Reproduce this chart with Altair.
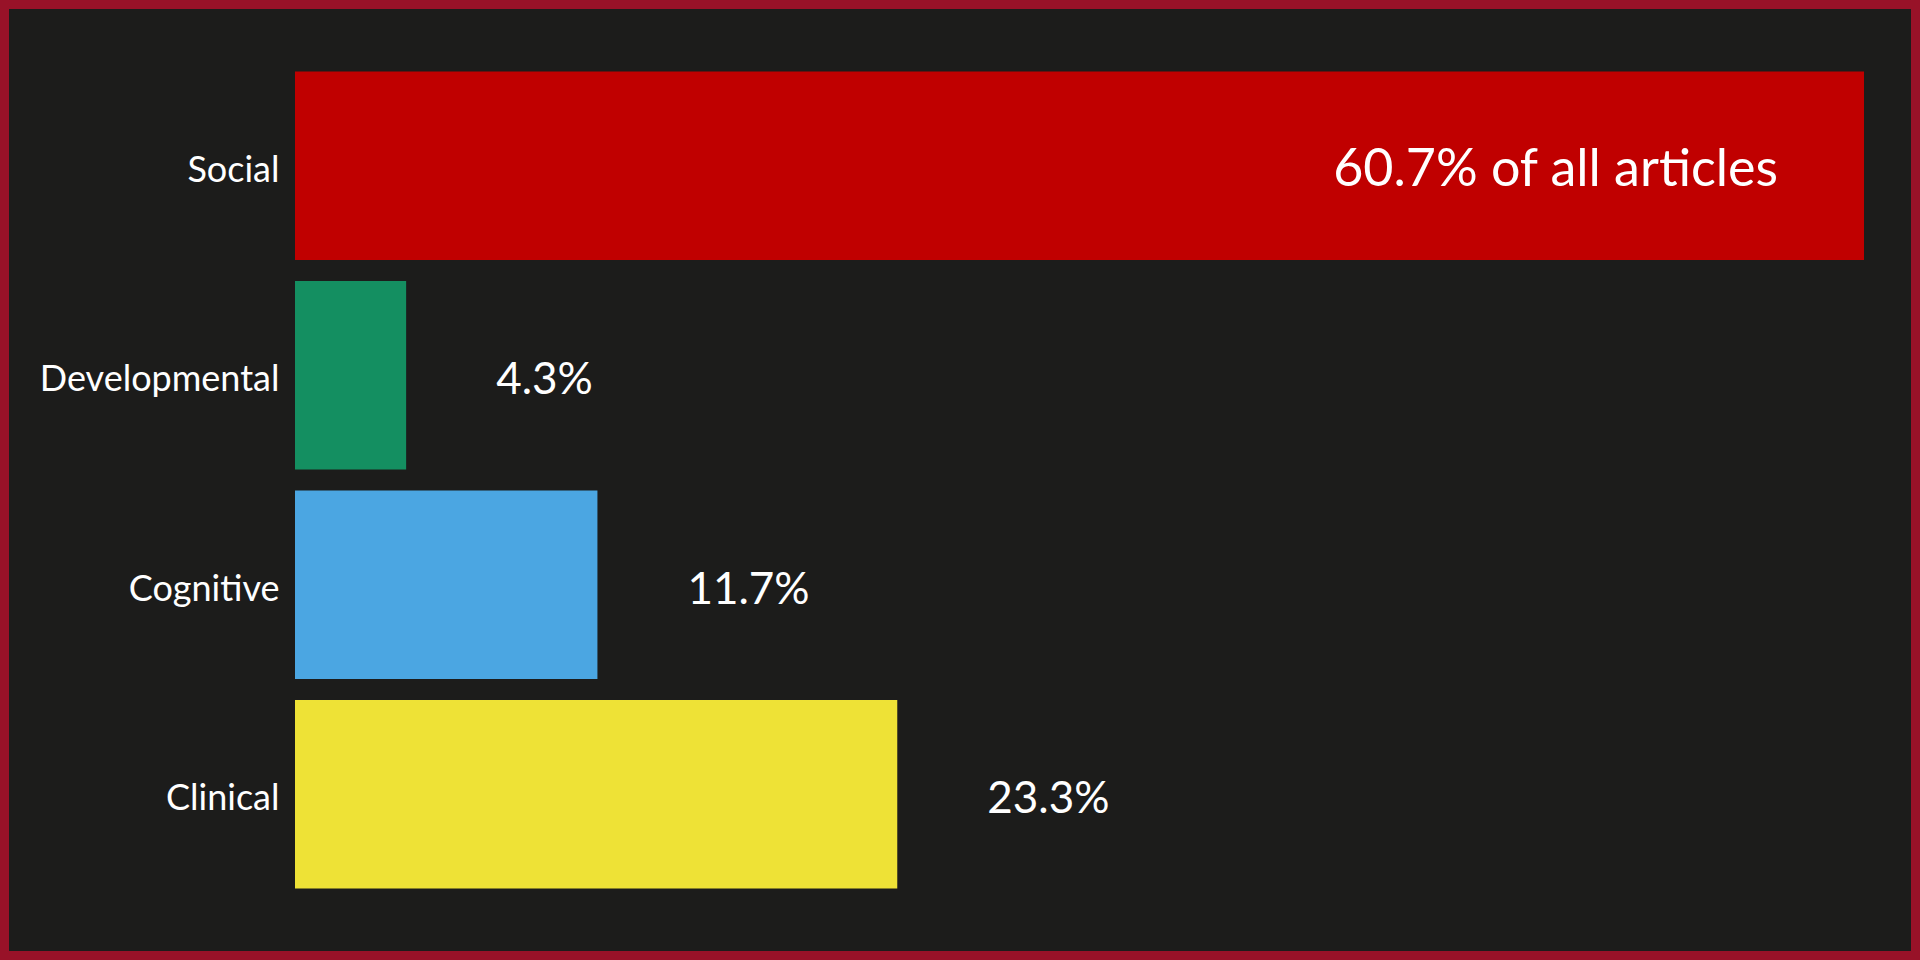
import altair as alt
import pandas as pd

categories = ["Social", "Developmental", "Cognitive", "Clinical"]
shares = [60.7, 4.3, 11.7, 23.3]
labels = ["60.7% of all articles", "4.3%", "11.7%", "23.3%"]
colors = ["#C00000", "#148F61", "#4BA6E2", "#EEE236"]

df = pd.DataFrame({"category": categories, "share": shares, "label": labels})

W, H = 1569, 838
FONT = "Lato"

y_enc = alt.Y(
    "category:N",
    sort=categories,
    scale=alt.Scale(paddingInner=0.1, paddingOuter=0.05),
    axis=alt.Axis(
        title=None, domain=False, ticks=False, grid=False,
        labelColor="white", labelFont=FONT, labelFontSize=36,
        labelPadding=16, labelFontWeight="normal", zindex=2,
        labelLimit=600, labelOffset=5,
    ),
)
x_enc = alt.X("share:Q", scale=alt.Scale(domain=[0, 60.7], nice=False), axis=None)

panel = alt.Chart(alt.Data(values=[{"p": 1}])).mark_rect(color="#1C1C1B").encode(
    x=alt.value(-286), x2=alt.value(W + 47), y=alt.value(-52), y2=alt.value(H + 52)
)

bars = alt.Chart(df).mark_bar().encode(
    y=y_enc,
    x=x_enc,
    color=alt.Color("category:N", scale=alt.Scale(domain=categories, range=colors), legend=None),
)

text_in = alt.Chart(df).transform_filter(alt.datum.share > 50).mark_text(
    align="right", baseline="middle", dx=-86, dy=4, color="white", font=FONT, fontSize=52
).encode(y=alt.Y("category:N", sort=categories), x=x_enc, text="label:N")

text_out = alt.Chart(df).transform_filter(alt.datum.share <= 50).mark_text(
    align="left", baseline="middle", dx=90, dy=6, color="white", font=FONT, fontSize=44
).encode(y=alt.Y("category:N", sort=categories), x=x_enc, text="label:N")

chart = alt.layer(panel, bars, text_in, text_out).properties(
    width=W, height=H,
    autosize=alt.AutoSizeParams(type="none"),
    padding={"left": 295, "top": 61, "right": 56, "bottom": 61},
    background="#981228",
).configure_view(stroke=None)

chart.save("out.html", embed_options={"renderer": "svg", "actions": False})
